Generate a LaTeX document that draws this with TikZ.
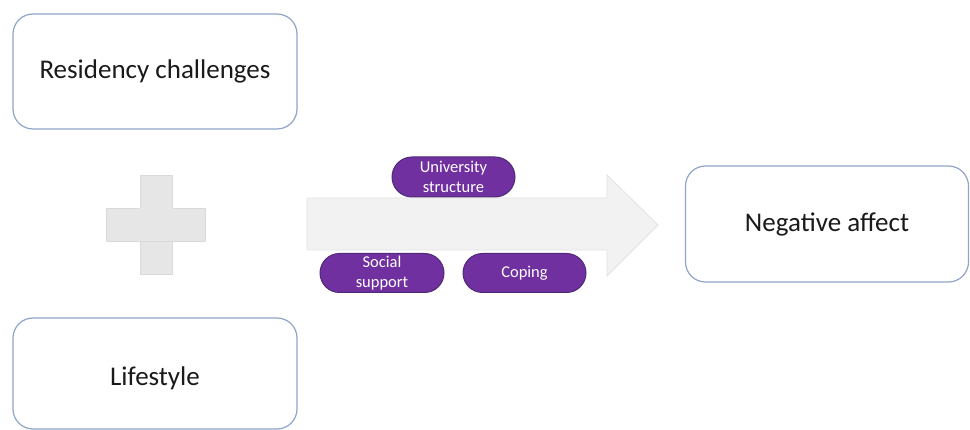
\documentclass[tikz,border=0pt]{standalone}
\usepackage{fontspec}
\setmainfont{Carlito}
\usetikzlibrary{shapes.misc}
\definecolor{boxline}{HTML}{8EA5C9}
\definecolor{pillfill}{HTML}{7030A0}
\definecolor{pillline}{HTML}{4F2A78}
\definecolor{plusfill}{HTML}{E6E6E6}
\definecolor{plusline}{HTML}{DADADA}
\definecolor{arrowfill}{HTML}{F2F2F2}
\definecolor{arrowline}{HTML}{E2E2E2}
\definecolor{txt}{HTML}{1A1A1A}
\tikzset{
  bigbox/.style={draw=boxline, line width=1.2pt, fill=white, rounded corners=20pt,
    minimum width=284pt, minimum height=115pt, inner sep=0pt,
    text=txt, font=\fontsize{27}{31}\selectfont},
  pill/.style={rounded rectangle, draw=pillline, line width=1pt, fill=pillfill,
    minimum width=123pt, minimum height=39pt, inner sep=0pt,
    text=white, align=center, font=\fontsize{16.5}{19.5}\selectfont},
  plusbar/.style={fill=plusfill, draw=plusline, line width=0.6pt},
}
\begin{document}
\begin{tikzpicture}[x=1pt,y=-1pt]
\useasboundingbox[fill=white] (0,0) rectangle (970,430);
% boxes
\node[bigbox] (res) at (155,71.5) {Residency challenges};
\node[bigbox, minimum height=111pt] (life) at (155,373.5) {};
\node[text=txt, font=\fontsize{27}{31}\selectfont] (lifet) at (155,378) {Lifestyle};
\node[bigbox, minimum width=283pt, minimum height=116pt] (neg) at (827,224) {Negative affect};
% plus sign
\draw[plusbar] (140,175) rectangle (172,274);
\draw[plusbar] (106,208) rectangle (205,241);
\fill[plusfill] (140.4,208.4) rectangle (171.6,240.6);
% big arrow
\draw[fill=arrowfill, draw=arrowline, line width=0.8pt]
  (307,198) -- (607,198) -- (607,175) -- (658,225) -- (607,276) -- (607,250) -- (307,250) -- cycle;
% pills
\node[pill, minimum height=40pt] (uni) at (453.5,177) {University\\structure};
\node[pill, minimum width=124pt] (soc) at (382,273) {Social\\support};
\node[pill] (cop) at (524.5,273) {Coping};
\end{tikzpicture}
\end{document}
